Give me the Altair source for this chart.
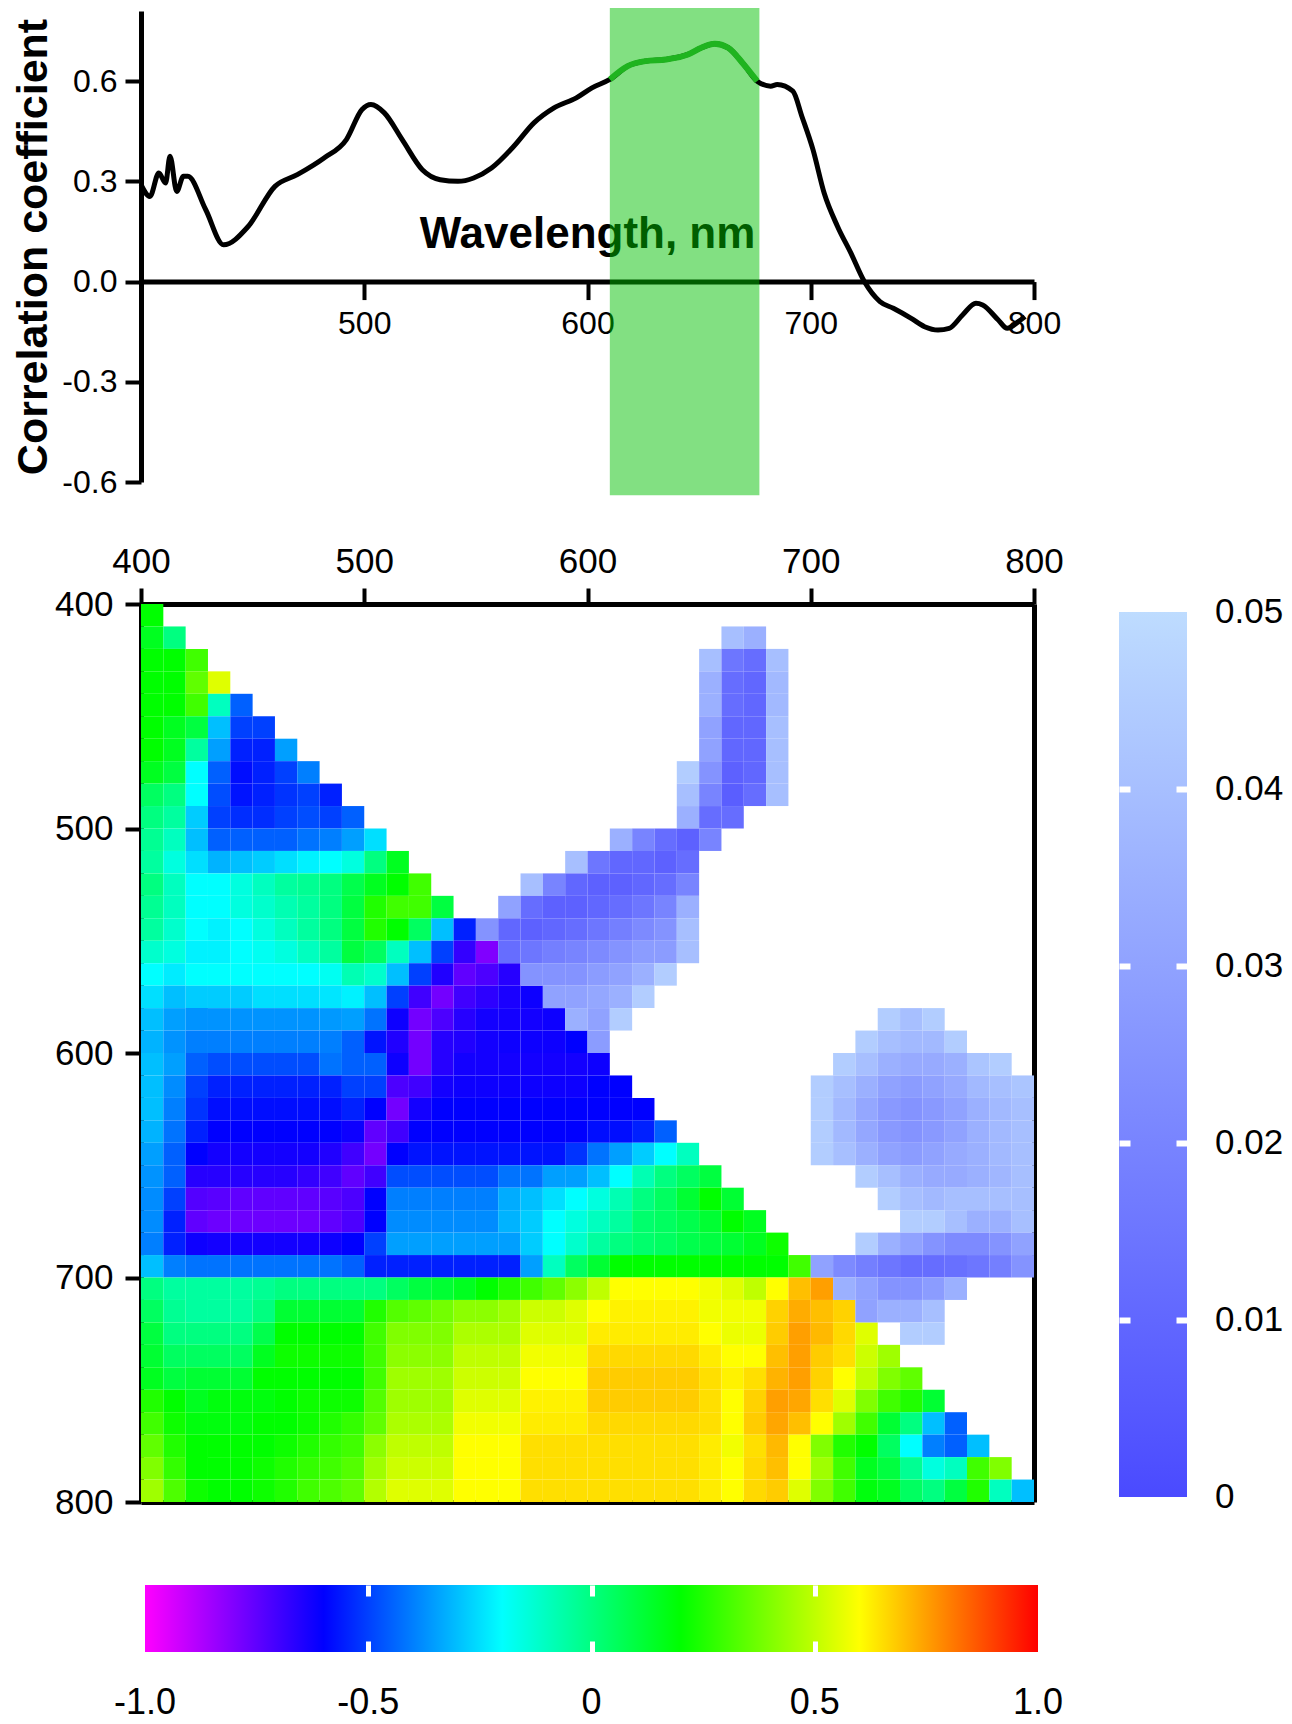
import altair as alt
import pandas as pd

FONT = "Liberation Sans"

# ---------------- top panel: correlation spectrum ----------------
WAVELENGTH = [400, 404, 408, 411, 413, 416, 419, 421, 429, 437, 448, 460, 470, 482, 492, 499, 503, 509,
              517, 526, 534, 542, 549, 557, 567, 576, 585, 595, 602, 610, 618, 626, 635, 645, 651, 657,
              663, 670, 676, 682, 685, 692, 696, 701, 706, 712, 718, 724, 731, 737, 745, 751, 757, 762,
              768, 774, 777, 784, 788, 793, 796]
CORR_COEF = [0.29, 0.255, 0.325, 0.295, 0.375, 0.27, 0.315, 0.315, 0.215, 0.11, 0.165, 0.285, 0.32, 0.37,
             0.425, 0.515, 0.53, 0.505, 0.425, 0.335, 0.305, 0.30, 0.31, 0.34, 0.405, 0.475, 0.52, 0.55,
             0.58, 0.605, 0.645, 0.66, 0.665, 0.68, 0.70, 0.712, 0.70, 0.65, 0.60, 0.585, 0.59, 0.57,
             0.495, 0.395, 0.265, 0.165, 0.085, 0.0, -0.06, -0.08, -0.11, -0.135, -0.145, -0.14, -0.10,
             -0.065, -0.07, -0.115, -0.14, -0.12, -0.105]
BAND_WL = [610, 677]
BAND_R = [-0.64, 0.84]
X_TITLE = "Wavelength, nm"
Y_TITLE = "Correlation coefficient"
X_TITLE_AT = [600, 0.1]

# ---------------- heat map: correlation between wavelengths (lower triangle) ----------------
GRID_WL = [400, 410, 420, 430, 440, 450, 460, 470, 480, 490, 500, 510, 520, 530, 540, 550, 560, 570, 580, 590,
           600, 610, 620, 630, 640, 650, 660, 670, 680, 690, 700, 710, 720, 730, 740, 750, 760, 770, 780, 790]
CORR_ROWS = [
    [0.2],
    [0.15, 0.0],
    [0.2, 0.2, 0.3],
    [0.2, 0.2, 0.35, 0.55],
    [0.2, 0.2, 0.3, -0.1, -0.45],
    [0.2, 0.15, 0.1, -0.3, -0.5, -0.5],
    [0.2, 0.15, -0.05, -0.35, -0.55, -0.55, -0.35],
    [0.15, 0.1, -0.2, -0.45, -0.58, -0.55, -0.5, -0.4],
    [0.05, 0.0, -0.2, -0.48, -0.57, -0.55, -0.52, -0.5, -0.55],
    [0.0, -0.05, -0.28, -0.5, -0.53, -0.53, -0.5, -0.48, -0.5, -0.45],
    [-0.03, -0.1, -0.3, -0.45, -0.45, -0.45, -0.45, -0.42, -0.4, -0.35, -0.25],
    [-0.05, -0.15, -0.25, -0.32, -0.3, -0.28, -0.25, -0.22, -0.2, -0.15, 0.0, 0.15],
    [0.0, -0.1, -0.2, -0.2, -0.15, -0.1, -0.05, -0.03, 0.0, 0.08, 0.15, 0.2, 0.3],
    [-0.03, -0.1, -0.2, -0.2, -0.15, -0.12, -0.08, -0.05, 0.0, 0.1, 0.25, 0.3, 0.3, 0.1],
    [-0.05, -0.12, -0.2, -0.22, -0.2, -0.15, -0.1, -0.05, 0.0, 0.1, 0.25, 0.2, 0.05, -0.3, -0.55],
    [-0.12, -0.15, -0.22, -0.22, -0.2, -0.18, -0.15, -0.1, -0.05, 0.1, 0.05, -0.1, -0.3, -0.5, -0.68, -0.8],
    [-0.2, -0.23, -0.2, -0.2, -0.2, -0.2, -0.2, -0.2, -0.18, -0.08, -0.12, -0.3, -0.5, -0.65, -0.75, -0.72,
     -0.66],
    [-0.25, -0.3, -0.28, -0.28, -0.28, -0.25, -0.25, -0.25, -0.24, -0.22, -0.3, -0.5, -0.7, -0.78, -0.7,
     -0.67, -0.64, -0.62],
    [-0.3, -0.35, -0.37, -0.37, -0.37, -0.37, -0.37, -0.37, -0.36, -0.35, -0.42, -0.62, -0.78, -0.72, -0.66,
     -0.63, -0.63, -0.63, -0.62],
    [-0.32, -0.37, -0.4, -0.4, -0.4, -0.4, -0.4, -0.4, -0.4, -0.45, -0.57, -0.65, -0.78, -0.66, -0.65, -0.63,
     -0.62, -0.62, -0.62, -0.6],
    [-0.3, -0.35, -0.45, -0.48, -0.48, -0.48, -0.48, -0.48, -0.42, -0.45, -0.45, -0.62, -0.78, -0.66, -0.63,
     -0.63, -0.63, -0.63, -0.63, -0.63, -0.62],
    [-0.3, -0.38, -0.5, -0.55, -0.55, -0.55, -0.55, -0.55, -0.55, -0.5, -0.5, -0.72, -0.7, -0.63, -0.62,
     -0.62, -0.62, -0.62, -0.62, -0.62, -0.6, -0.6],
    [-0.3, -0.4, -0.52, -0.58, -0.58, -0.58, -0.58, -0.58, -0.58, -0.55, -0.6, -0.78, -0.63, -0.6, -0.6,
     -0.6, -0.6, -0.6, -0.6, -0.6, -0.6, -0.6, -0.6],
    [-0.32, -0.42, -0.55, -0.6, -0.6, -0.6, -0.6, -0.6, -0.6, -0.62, -0.75, -0.7, -0.6, -0.6, -0.6, -0.6,
     -0.6, -0.6, -0.6, -0.6, -0.58, -0.58, -0.55, -0.45],
    [-0.35, -0.45, -0.6, -0.63, -0.63, -0.63, -0.63, -0.63, -0.65, -0.7, -0.78, -0.6, -0.57, -0.57, -0.57,
     -0.57, -0.57, -0.57, -0.57, -0.52, -0.42, -0.35, -0.28, -0.2, -0.1],
    [-0.37, -0.45, -0.66, -0.66, -0.66, -0.66, -0.66, -0.68, -0.7, -0.75, -0.7, -0.48, -0.48, -0.48, -0.48,
     -0.48, -0.42, -0.42, -0.35, -0.35, -0.3, -0.2, -0.08, 0.0, 0.05, 0.1],
    [-0.38, -0.5, -0.73, -0.74, -0.75, -0.75, -0.75, -0.75, -0.74, -0.72, -0.6, -0.4, -0.4, -0.4, -0.4,
     -0.4, -0.33, -0.3, -0.25, -0.2, -0.15, -0.08, 0.0, 0.05, 0.12, 0.2, 0.12],
    [-0.38, -0.55, -0.75, -0.77, -0.77, -0.77, -0.77, -0.77, -0.75, -0.72, -0.6, -0.38, -0.38, -0.38, -0.38,
     -0.38, -0.32, -0.28, -0.2, -0.15, -0.1, -0.05, 0.03, 0.05, 0.08, 0.12, 0.2, 0.15],
    [-0.4, -0.55, -0.62, -0.63, -0.63, -0.63, -0.63, -0.63, -0.62, -0.6, -0.5, -0.35, -0.35, -0.35, -0.35,
     -0.35, -0.35, -0.28, -0.2, -0.12, -0.05, 0.0, 0.03, 0.05, 0.08, 0.1, 0.12, 0.15, 0.22],
    [-0.3, -0.4, -0.42, -0.42, -0.42, -0.42, -0.42, -0.42, -0.42, -0.45, -0.55, -0.55, -0.55, -0.55, -0.55,
     -0.55, -0.55, -0.35, -0.1, 0.05, 0.12, 0.2, 0.2, 0.2, 0.2, 0.2, 0.2, 0.2, 0.2, 0.3],
    [0.0, -0.05, -0.05, -0.05, -0.05, -0.03, 0.0, 0.0, 0.0, 0.0, 0.0, 0.05, 0.1, 0.12, 0.15, 0.2, 0.25, 0.3,
     0.35, 0.42, 0.5, 0.6, 0.6, 0.6, 0.6, 0.58, 0.55, 0.5, 0.6, 0.7, 0.75],
    [0.05, -0.03, -0.05, -0.05, -0.05, 0.0, 0.12, 0.12, 0.12, 0.12, 0.25, 0.33, 0.35, 0.38, 0.42, 0.42, 0.45,
     0.52, 0.52, 0.55, 0.6, 0.62, 0.62, 0.62, 0.62, 0.58, 0.58, 0.58, 0.67, 0.73, 0.7, 0.67],
    [0.1, 0.0, 0.0, 0.0, 0.0, 0.08, 0.2, 0.2, 0.2, 0.2, 0.3, 0.4, 0.4, 0.4, 0.47, 0.47, 0.47, 0.55, 0.55,
     0.55, 0.63, 0.63, 0.63, 0.63, 0.63, 0.6, 0.57, 0.57, 0.68, 0.75, 0.71, 0.66, 0.55],
    [0.12, 0.05, 0.05, 0.05, 0.05, 0.15, 0.22, 0.22, 0.22, 0.22, 0.3, 0.42, 0.42, 0.42, 0.5, 0.5, 0.5, 0.58,
     0.58, 0.58, 0.66, 0.66, 0.66, 0.66, 0.66, 0.63, 0.6, 0.6, 0.7, 0.75, 0.68, 0.65, 0.52, 0.45],
    [0.15, 0.1, 0.12, 0.12, 0.12, 0.2, 0.2, 0.2, 0.2, 0.2, 0.3, 0.45, 0.45, 0.45, 0.52, 0.52, 0.52, 0.6, 0.6,
     0.6, 0.68, 0.68, 0.68, 0.68, 0.68, 0.65, 0.62, 0.65, 0.72, 0.75, 0.67, 0.6, 0.5, 0.4, 0.35],
    [0.25, 0.2, 0.15, 0.18, 0.18, 0.18, 0.2, 0.22, 0.22, 0.22, 0.33, 0.45, 0.45, 0.45, 0.55, 0.55, 0.55,
     0.62, 0.62, 0.62, 0.68, 0.68, 0.68, 0.68, 0.68, 0.65, 0.6, 0.67, 0.75, 0.74, 0.65, 0.55, 0.4, 0.3, 0.25,
     0.12],
    [0.3, 0.22, 0.18, 0.18, 0.18, 0.2, 0.2, 0.22, 0.25, 0.28, 0.35, 0.47, 0.47, 0.47, 0.58, 0.58, 0.58, 0.63,
     0.63, 0.63, 0.66, 0.66, 0.66, 0.66, 0.66, 0.65, 0.6, 0.68, 0.74, 0.7, 0.6, 0.45, 0.3, 0.12, 0.0, -0.3,
     -0.45],
    [0.35, 0.25, 0.2, 0.2, 0.2, 0.2, 0.22, 0.25, 0.28, 0.3, 0.42, 0.5, 0.5, 0.5, 0.6, 0.6, 0.6, 0.65, 0.65,
     0.65, 0.65, 0.65, 0.65, 0.65, 0.65, 0.63, 0.58, 0.65, 0.71, 0.6, 0.4, 0.25, 0.2, 0.05, -0.2, -0.4,
     -0.45, -0.3],
    [0.4, 0.28, 0.2, 0.2, 0.2, 0.22, 0.25, 0.28, 0.3, 0.33, 0.45, 0.52, 0.52, 0.52, 0.6, 0.6, 0.6, 0.65,
     0.65, 0.65, 0.65, 0.65, 0.65, 0.65, 0.65, 0.63, 0.6, 0.66, 0.7, 0.6, 0.45, 0.3, 0.15, 0.1, -0.03,
     -0.15, -0.1, 0.3, 0.4],
    [0.45, 0.32, 0.22, 0.2, 0.2, 0.22, 0.25, 0.3, 0.32, 0.35, 0.48, 0.55, 0.55, 0.55, 0.6, 0.6, 0.6, 0.65,
     0.65, 0.65, 0.65, 0.65, 0.65, 0.65, 0.65, 0.63, 0.6, 0.66, 0.68, 0.55, 0.4, 0.3, 0.18, 0.15, 0.05, 0.0,
     0.1, 0.25, -0.1, -0.3],
]
CELL_NM = 10

# ---------------- heat map: significance (p-value) cells (upper triangle) ----------------
P_ROW_WL = [410, 420, 430, 440, 450, 460, 470, 480, 490, 500, 510, 520, 530, 540, 550, 560, 570, 580, 590,
            580, 590, 600, 610, 620, 630, 640, 650, 660, 670, 680, 690, 700, 710, 720]
P_COL_START = [660, 650, 650, 650, 650, 650, 640, 640, 640, 610, 590, 570, 560, 550, 560, 570, 580, 590, 600,
               730, 720, 710, 700, 700, 700, 700, 720, 730, 740, 720, 700, 710, 720, 740]
P_VALUES = [
    [0.04, 0.035],
    [0.04, 0.015, 0.012, 0.04],
    [0.035, 0.012, 0.01, 0.038],
    [0.035, 0.012, 0.01, 0.038],
    [0.03, 0.01, 0.01, 0.04],
    [0.03, 0.01, 0.01, 0.04],
    [0.045, 0.025, 0.008, 0.01, 0.04],
    [0.04, 0.02, 0.007, 0.012, 0.04],
    [0.035, 0.012, 0.012],
    [0.035, 0.02, 0.012, 0.008, 0.02],
    [0.04, 0.015, 0.01, 0.01, 0.008, 0.012],
    [0.04, 0.02, 0.01, 0.008, 0.008, 0.01, 0.012, 0.02],
    [0.03, 0.012, 0.008, 0.008, 0.01, 0.012, 0.015, 0.02, 0.035],
    [0.025, 0.01, 0.008, 0.01, 0.012, 0.015, 0.018, 0.022, 0.025, 0.04],
    [0.012, 0.015, 0.018, 0.02, 0.022, 0.025, 0.028, 0.028, 0.04],
    [0.025, 0.025, 0.025, 0.028, 0.03, 0.035, 0.045],
    [0.03, 0.03, 0.032, 0.035, 0.045],
    [0.035, 0.03, 0.045],
    [0.028],
    [0.045, 0.04, 0.045],
    [0.045, 0.04, 0.038, 0.038, 0.045],
    [0.045, 0.04, 0.035, 0.033, 0.033, 0.035, 0.042, 0.045],
    [0.045, 0.04, 0.035, 0.03, 0.028, 0.03, 0.033, 0.038, 0.04, 0.042],
    [0.045, 0.038, 0.032, 0.027, 0.025, 0.027, 0.03, 0.035, 0.038, 0.04],
    [0.045, 0.038, 0.032, 0.027, 0.025, 0.027, 0.03, 0.035, 0.038, 0.04],
    [0.045, 0.04, 0.035, 0.03, 0.028, 0.03, 0.033, 0.035, 0.038, 0.04],
    [0.045, 0.04, 0.035, 0.033, 0.033, 0.035, 0.037, 0.04],
    [0.045, 0.04, 0.038, 0.04, 0.04, 0.04, 0.04],
    [0.045, 0.045, 0.04, 0.035, 0.035, 0.04],
    [0.045, 0.035, 0.03, 0.025, 0.022, 0.022, 0.025, 0.03],
    [0.03, 0.022, 0.018, 0.015, 0.012, 0.012, 0.013, 0.015, 0.018, 0.025],
    [0.035, 0.03, 0.025, 0.025, 0.028, 0.035],
    [0.03, 0.035, 0.035, 0.04],
    [0.045, 0.045],
]

# colour scales and colour-bar ticks
CORR_STOPS = [-1.0, -0.6, -0.2, 0.2, 0.6, 1.0]
CORR_COLORS = ["#ff00ff", "#0000ff", "#00ffff", "#00ff00", "#ffff00", "#ff0000"]
CORR_TICKS = [-1.0, -0.5, 0.0, 0.5, 1.0]
CORR_TICK_LABELS = ["-1.0", "-0.5", "0", "0.5", "1.0"]
CORR_NOTCHES = [-0.5, 0.0, 0.5]
P_DOMAIN = [0.0, 0.05]
P_COLORS = ["#4a4aff", "#bedcff"]
P_TICKS = [0.0, 0.01, 0.02, 0.03, 0.04, 0.05]
P_TICK_LABELS = ["0", "0.01", "0.02", "0.03", "0.04", "0.05"]
P_NOTCHES = [0.01, 0.02, 0.03, 0.04]

# ---------------- layout (pixels inside the plotting group) ----------------
W = 893
H = 1491
TOP_H = 471
TOP_DOMAIN = [-0.6, 0.81]
HEAT_TOP = 593
ZERO_PX = TOP_H * (TOP_DOMAIN[1] - 0.0) / (TOP_DOMAIN[1] - TOP_DOMAIN[0])
HBAR_X, HBAR_Y, HBAR_LEN, HBAR_THICK = 4, 1574, 893, 67
VBAR_X, VBAR_Y, VBAR_LEN, VBAR_THICK = 978, 601, 885, 68
NOTCH = 11

# ---------------- data frames ----------------
line_df = pd.DataFrame({"wl": WAVELENGTH, "r": CORR_COEF})
band_df = pd.DataFrame({"wl": [BAND_WL[0]], "wl_end": [BAND_WL[1]], "r": [BAND_R[0]], "r_end": [BAND_R[1]]})
label_df = pd.DataFrame({"wl": [X_TITLE_AT[0]], "r": [X_TITLE_AT[1]], "t": [X_TITLE]})

cells = []
for yw, vals in zip(GRID_WL, CORR_ROWS):
    for j, v in enumerate(vals):
        xw = GRID_WL[j]
        cells.append({"x0": xw, "x1": xw + CELL_NM, "y0": yw, "y1": yw + CELL_NM, "r": v})
corr_df = pd.DataFrame(cells)

pcells = []
for yw, xs, vals in zip(P_ROW_WL, P_COL_START, P_VALUES):
    for j, v in enumerate(vals):
        xw = xs + CELL_NM * j
        pcells.append({"x0": xw, "x1": xw + CELL_NM, "y0": yw, "y1": yw + CELL_NM, "p": v})
p_df = pd.DataFrame(pcells)

corr_tick_df = pd.DataFrame({"v": CORR_TICKS, "lab": CORR_TICK_LABELS})
p_tick_df = pd.DataFrame({"v": P_TICKS, "lab": P_TICK_LABELS})

# ---------------- top panel ----------------
xs_top = alt.Scale(domain=[400, 800], range=[0, W], nice=False, zero=False)
ys_top = alt.Scale(domain=TOP_DOMAIN, range=[TOP_H, 0], nice=False, zero=False)

axis_common = dict(domainColor="black", tickColor="black", labelColor="black", labelFont=FONT,
                   grid=False, labelFlush=False, labelOverlap=False)

x_axis_top = alt.Axis(orient="bottom", offset=-(H - ZERO_PX), values=[500, 600, 700, 800], title=None,
                      labelFontSize=32, tickSize=18, tickWidth=4, domainWidth=5, labelPadding=9,
                      zindex=0, **axis_common)
y_axis_top = alt.Axis(orient="left", values=[-0.6, -0.3, 0.0, 0.3, 0.6],
                      labelExpr="datum.value < 0 ? '-' + format(-datum.value, '.1f') : format(datum.value, '.1f')",
                      labelFontSize=32, tickSize=16, tickWidth=4, domainWidth=5, labelPadding=8,
                      title=Y_TITLE, titleFont=FONT, titleFontSize=43, titleFontWeight="bold",
                      titleColor="black", titlePadding=6, zindex=0, **axis_common)

X_TOP = alt.X("wl:Q", scale=xs_top, axis=x_axis_top)
Y_TOP = alt.Y("r:Q", scale=ys_top, axis=y_axis_top)

title_text = alt.Chart(label_df).mark_text(
    font=FONT, fontSize=44, fontWeight="bold", color="black", align="center", baseline="alphabetic"
).encode(x=X_TOP, y=Y_TOP, text="t:N")
band = alt.Chart(band_df).mark_rect(color="#00c000", opacity=0.49).encode(
    x=X_TOP, x2="wl_end", y=Y_TOP, y2="r_end",
)
line_black = alt.Chart(line_df).mark_line(color="black", strokeWidth=5, interpolate="monotone").encode(
    x=X_TOP, y=Y_TOP,
)
line_green = alt.Chart(line_df).transform_filter(
    f"datum.wl >= {BAND_WL[0]} && datum.wl <= {BAND_WL[1]}"
).mark_line(color="#1fb41f", strokeWidth=6, interpolate="monotone").encode(
    x=X_TOP, y=Y_TOP,
)
top_panel = alt.layer(title_text, band, line_black, line_green)

# ---------------- heat map ----------------
xs_heat = alt.Scale(domain=[400, 800], range=[0, W], nice=False, zero=False)
ys_heat = alt.Scale(domain=[400, 800], range=[HEAT_TOP, H], nice=False, zero=False)
corr_scale = alt.Scale(type="linear", domain=CORR_STOPS, range=CORR_COLORS, interpolate="rgb")
p_scale = alt.Scale(type="linear", domain=P_DOMAIN, range=P_COLORS, interpolate="rgb")

heat_x_axis = alt.Axis(orient="top", offset=-HEAT_TOP, values=[400, 500, 600, 700, 800], title=None,
                       labelFontSize=35, tickSize=16, tickWidth=4, domainWidth=5, labelPadding=9,
                       **axis_common)
heat_y_axis = alt.Axis(orient="left", values=[400, 500, 600, 700, 800], title=None,
                       labelFontSize=35, tickSize=16, tickWidth=4, domainWidth=5, labelPadding=12,
                       **axis_common)
frame_x_axis = alt.Axis(orient="bottom", labels=False, ticks=False, title=None, domainWidth=5,
                        domainColor="black", grid=False)
frame_y_axis = alt.Axis(orient="right", labels=False, ticks=False, title=None, domainWidth=5,
                        domainColor="black", grid=False)

corr_legend = alt.Legend(
    type="gradient", orient="none", legendX=HBAR_X, legendY=HBAR_Y, direction="horizontal",
    gradientLength=HBAR_LEN, gradientThickness=HBAR_THICK, gradientStrokeWidth=0,
    values=CORR_TICKS, labelExpr="''", title=None, zindex=0,
)
p_legend = alt.Legend(
    type="gradient", orient="none", legendX=VBAR_X, legendY=VBAR_Y, direction="vertical",
    gradientLength=VBAR_LEN, gradientThickness=VBAR_THICK, gradientStrokeWidth=0,
    values=P_TICKS, labelExpr="''", title=None, zindex=0,
)

corr_layer = alt.Chart(corr_df).mark_rect().encode(
    x=alt.X("x0:Q", scale=xs_heat, axis=heat_x_axis), x2="x1",
    y=alt.Y("y0:Q", scale=ys_heat, axis=heat_y_axis), y2="y1",
    color=alt.Color("r:Q", scale=corr_scale, legend=corr_legend),
)
p_layer = alt.Chart(p_df).mark_rect().encode(
    x=alt.X("x0:Q", scale=xs_heat, axis=frame_x_axis), x2="x1",
    y=alt.Y("y0:Q", scale=ys_heat, axis=frame_y_axis), y2="y1",
    color=alt.Color("p:Q", scale=p_scale, legend=p_legend),
)
heat_panel = alt.layer(corr_layer, p_layer).resolve_scale(
    color="independent"
).resolve_axis(x="independent", y="independent")

# ---------------- colour-bar labels and white tick notches (axes drawn above the legends) ----------------
notch_common = dict(labels=False, domain=False, grid=False, title=None, tickColor="white",
                    tickSize=NOTCH, zindex=2)

hbar_scale = alt.Scale(domain=[-1, 1], range=[HBAR_X, HBAR_X + HBAR_LEN], nice=False, zero=False)
h_notch_axis_top = alt.Axis(orient="top", offset=-(HBAR_Y + NOTCH), values=CORR_NOTCHES, tickWidth=5,
                            **notch_common)
h_notch_axis_bot = alt.Axis(orient="bottom", offset=(HBAR_Y + HBAR_THICK - NOTCH) - H, values=CORR_NOTCHES,
                            tickWidth=5, **notch_common)
h_labels = alt.Chart(corr_tick_df).mark_text(
    font=FONT, fontSize=36, color="black", align="center", baseline="alphabetic"
).encode(x=alt.X("v:Q", scale=hbar_scale, axis=h_notch_axis_top),
         y=alt.value(HBAR_Y + HBAR_THICK + 62), text="lab:N")
h_anchor = alt.Chart(corr_tick_df).mark_point(opacity=0).encode(
    x=alt.X("v:Q", scale=hbar_scale, axis=h_notch_axis_bot), y=alt.value(HBAR_Y + HBAR_THICK // 2))
hbar_deco = alt.layer(h_labels, h_anchor).resolve_axis(x="independent")

vbar_scale = alt.Scale(domain=P_DOMAIN, range=[VBAR_Y + VBAR_LEN, VBAR_Y], nice=False, zero=False)
v_notch_axis_l = alt.Axis(orient="left", offset=-(VBAR_X + NOTCH), values=P_NOTCHES, tickWidth=6,
                          **notch_common)
v_notch_axis_r = alt.Axis(orient="right", offset=(VBAR_X + VBAR_THICK - NOTCH) - W, values=P_NOTCHES,
                          tickWidth=6, **notch_common)
v_labels = alt.Chart(p_tick_df).mark_text(
    font=FONT, fontSize=35, color="black", align="left", baseline="middle"
).encode(y=alt.Y("v:Q", scale=vbar_scale, axis=v_notch_axis_l),
         x=alt.value(VBAR_X + VBAR_THICK + 28), text="lab:N")
v_anchor = alt.Chart(p_tick_df).mark_point(opacity=0).encode(
    y=alt.Y("v:Q", scale=vbar_scale, axis=v_notch_axis_r), x=alt.value(VBAR_X + VBAR_THICK // 2))
vbar_deco = alt.layer(v_labels, v_anchor).resolve_axis(y="independent")

chart = alt.layer(top_panel, heat_panel, hbar_deco, vbar_deco).resolve_scale(
    x="independent", y="independent"
).properties(
    width=W, height=H,
    padding={"left": 133, "top": 3, "right": 250, "bottom": 222},
    autosize=alt.AutoSizeParams(type="none"),
).configure_view(strokeWidth=0)

chart.save("out.html", embed_options={"renderer": "svg", "actions": False})
